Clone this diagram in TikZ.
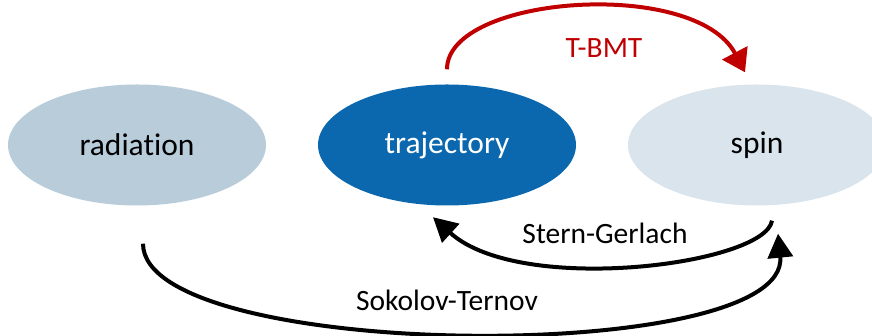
\documentclass[tikz,border=0pt]{standalone}
\usepackage{fontspec}
\setmainfont{Carlito}[Ligatures=NoCommon]
\usetikzlibrary{arrows.meta,shapes.geometric}

\definecolor{radcol}{HTML}{B8CCDA}
\definecolor{trajcol}{HTML}{0B68AE}
\definecolor{spincol}{HTML}{DAE4EC}
\definecolor{bmtred}{HTML}{C00000}

\begin{document}
\begin{tikzpicture}[x=1pt, y=1pt,
	blob/.style={ellipse, minimum width=258pt, minimum height=121pt, inner sep=0pt, font=\fontsize{31.5}{38}\selectfont},
	lbl/.style={font=\fontsize{29.5}{35}\selectfont},
	flow/.style={line width=4pt, -{Triangle[length=24pt, width=25pt]}}]
	\useasboundingbox (0,0) rectangle (872,336);
	\node[blob, fill=radcol] (rad) at (137,191) {radiation};
	\node[blob, fill=trajcol, text=white] (traj) at (447,191) {trajectory};
	\node[blob, fill=spincol] (spin) at (757,191) {spin};
	% couplings
	\draw[flow, bmtred, -{Triangle[length=22pt, width=28pt]}] ([yshift=15pt]traj.north) .. controls +(0,74) and +(-50,95) .. ([shift={(-12pt,12pt)}]spin.north);
	\draw[flow] ([shift={(15pt,-15pt)}]spin.south) .. controls +(-7,-44) and +(87,-79) .. ([shift={(-14pt,-11.5pt)}]traj.south);
	\draw[flow] ([shift={(6pt,-38pt)}]rad.south) .. controls +(0,-118) and +(13,-133) .. ([shift={(21pt,-28pt)}]spin.south);
	\node[lbl, text=bmtred] (bmt) at (604,288) {T-BMT};
	\node[lbl] (sg) at (605,103) {Stern-Gerlach};
	\node[lbl] (st) at (447,36) {Sokolov-Ternov};
\end{tikzpicture}
\end{document}
